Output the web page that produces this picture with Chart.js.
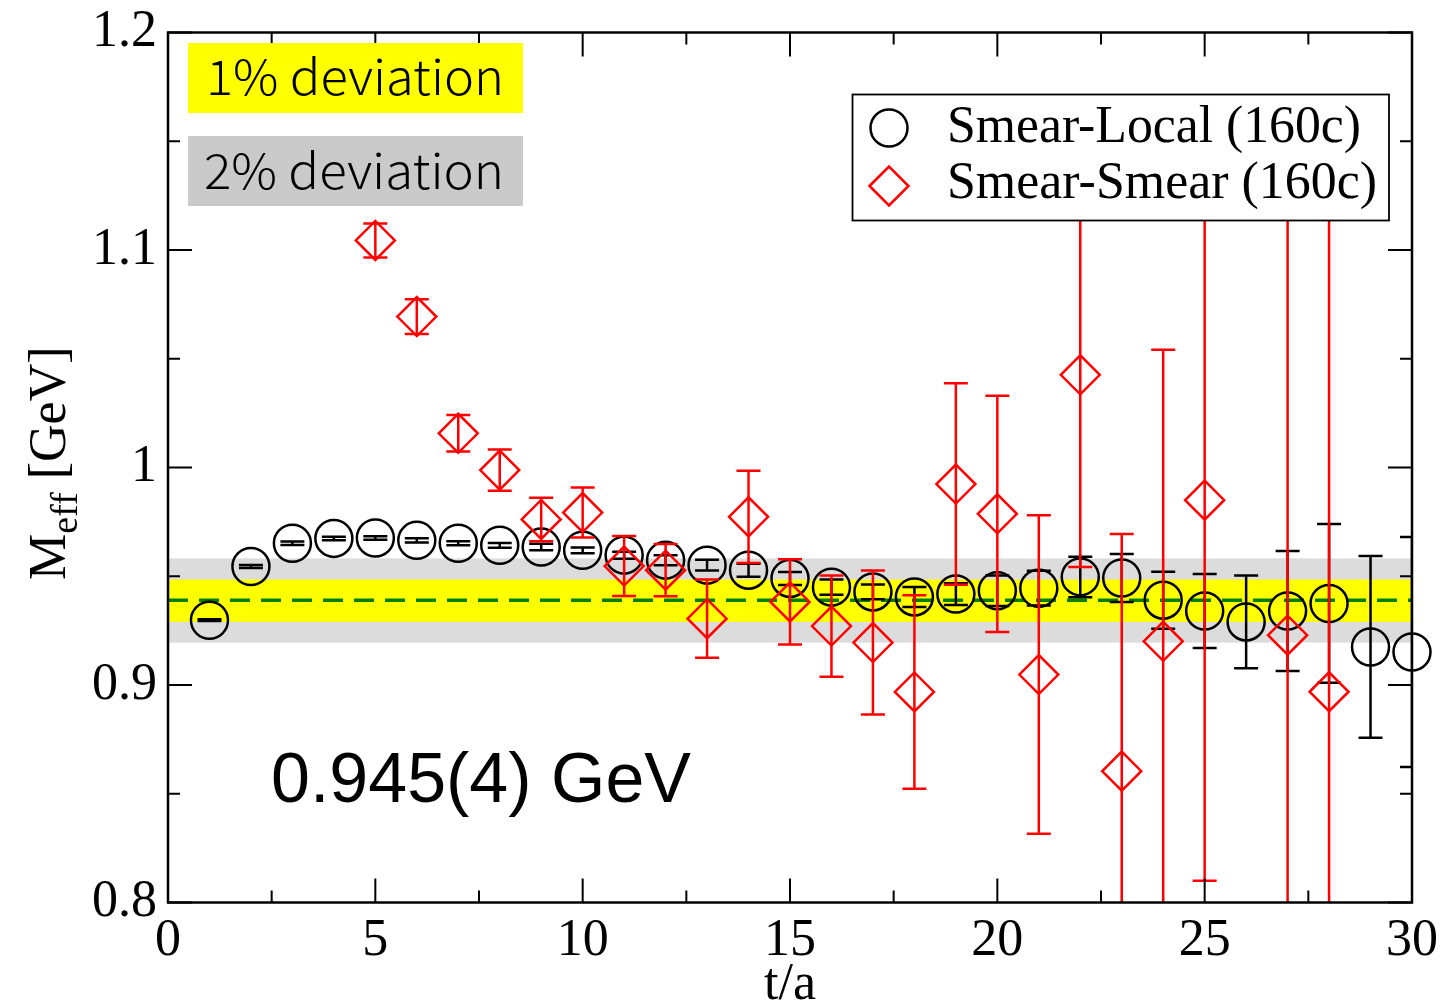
<!DOCTYPE html>
<html>
<head>
<meta charset="utf-8">
<script src="https://cdn.jsdelivr.net/npm/chart.js@4.4.1/dist/chart.umd.min.js"></script>
<style>
  html, body { margin: 0; padding: 0; background: #fff; }
  #wrap { width: 1440px; height: 1004px; }
</style>
</head>
<body>
<div id="wrap"><canvas id="myChart" width="1440" height="1004"></canvas></div>
<script>
// Smear-Local (160c) - black circles
const tLocal = [1, 2, 3, 4, 5, 6, 7, 8, 9, 10, 11, 12, 13, 14, 15, 16, 17, 18, 19, 20, 21, 22, 23, 24, 25, 26, 27, 28, 29, 30];
const mLocal = [0.9298, 0.9545, 0.9652, 0.9674, 0.9676, 0.9665, 0.9652, 0.9642, 0.9634, 0.9619,
  0.9597, 0.9574, 0.9551, 0.9528, 0.9490, 0.9450, 0.9428, 0.9405, 0.9418, 0.9433,
  0.9445, 0.9497, 0.9492, 0.9390, 0.9340, 0.9290, 0.9340, 0.9375, 0.9175, 0.9152];
const errLocal = [0.0004, 0.0007, 0.0008, 0.0008, 0.0008, 0.0010, 0.0009, 0.0011, 0.0015, 0.0013,
  0.0016, 0.0023, 0.0025, 0.0030, 0.0030, 0.0035, 0.0034, 0.0046, 0.0050, 0.0070,
  0.0080, 0.0093, 0.0110, 0.0131, 0.0170, 0.0213, 0.0276, 0.0365, 0.0418, 0.0529];

// Smear-Smear (160c) - red diamonds
const tSmear = [5, 6, 7, 8, 9, 10, 11, 12, 13, 14, 15, 16, 17, 18, 19, 20, 21, 22, 23, 24, 25, 27, 28];
const mSmear = [1.1044, 1.0694, 1.0157, 0.9988, 0.9761, 0.9793, 0.9547, 0.9528, 0.9305, 0.9773,
  0.9382, 0.9271, 0.9195, 0.8968, 0.9924, 0.9787, 0.9048, 1.0426, 0.8604, 0.9201,
  0.9850, 0.9229, 0.8969];
const errSmear = [0.0078, 0.0080, 0.0084, 0.0095, 0.0100, 0.0115, 0.0138, 0.0120, 0.0180, 0.0212,
  0.0196, 0.0233, 0.0331, 0.0445, 0.0463, 0.0543, 0.0732, 0.0884, 0.1090, 0.1340,
  0.1750, 0.2000, 0.2500];

// fit line and deviation bands
const fitT = [0, 30];
const fitM = [0.939, 0.939];
const band1 = [0.9290, 0.9485];
const band2 = [0.9195, 0.9582];

const xTicks = [0, 5, 10, 15, 20, 25, 30];
const xTickLabels = ["0", "5", "10", "15", "20", "25", "30"];
const yTicks = [0.8, 0.9, 1.0, 1.1, 1.2];
const yTickLabels = ["0.8", "0.9", "1", "1.1", "1.2"];

const serif = "'Liberation Serif', 'Times New Roman', serif";

function pts(xs, ys) {
  return xs.map((x, i) => ({ x: x, y: ys[i] }));
}

// fills a text so it spans a given width
function fitText(ctx, text, x, y, width) {
  const w = ctx.measureText(text).width;
  ctx.save();
  ctx.translate(x, y);
  ctx.scale(width / w, 1);
  ctx.fillText(text, 0, 0);
  ctx.restore();
}

function sinPadding(s) {
  s.paddingTop = 0; s.paddingBottom = 0; s.paddingLeft = 0; s.paddingRight = 0;
}

const bandas = {
  id: "bandas",
  beforeDatasetsDraw(chart) {
    const { ctx, chartArea: a, scales: { y } } = chart;
    ctx.save();
    ctx.fillStyle = "#dcdcdc";
    let t = y.getPixelForValue(band2[1]), b = y.getPixelForValue(band2[0]);
    ctx.fillRect(a.left, t, a.right - a.left, b - t);
    ctx.fillStyle = "#ffff00";
    t = y.getPixelForValue(band1[1]); b = y.getPixelForValue(band1[0]);
    ctx.fillRect(a.left, t, a.right - a.left, b - t);
    ctx.restore();
  }
};

const barrasError = {
  id: "barrasError",
  beforeDatasetDraw(chart, args) {
    const ds = chart.data.datasets[args.index];
    if (!ds.errors) return;
    const { ctx, chartArea: a, scales: { x, y } } = chart;
    ctx.save();
    ctx.beginPath();
    ctx.rect(a.left, a.top, a.right - a.left, a.bottom - a.top);
    ctx.clip();
    ctx.strokeStyle = ds.borderColor;
    ctx.lineWidth = 2.5;
    ds.data.forEach((p, i) => {
      const e = ds.errors[i];
      const px = x.getPixelForValue(p.x);
      const top = y.getPixelForValue(p.y + e);
      const bot = y.getPixelForValue(p.y - e);
      ctx.beginPath();
      ctx.moveTo(px, top); ctx.lineTo(px, bot);
      ctx.moveTo(px - 12, top); ctx.lineTo(px + 12, top);
      ctx.moveTo(px - 12, bot); ctx.lineTo(px + 12, bot);
      ctx.stroke();
    });
    ctx.restore();
  }
};

const marco = {
  id: "marco",
  afterDatasetsDraw(chart) {
    const { ctx, chartArea: a, scales: { x, y } } = chart;
    ctx.save();
    ctx.strokeStyle = "#000";
    ctx.lineWidth = 2;
    ctx.beginPath();
    // ticks hacia adentro, mayores y menores
    for (let i = 0; i < xTicks.length; i++) {
      const px = x.getPixelForValue(xTicks[i]);
      ctx.moveTo(px, a.bottom); ctx.lineTo(px, a.bottom - 24);
      ctx.moveTo(px, a.top); ctx.lineTo(px, a.top + 24);
      if (i < xTicks.length - 1) {
        const pm = x.getPixelForValue((xTicks[i] + xTicks[i + 1]) / 2);
        ctx.moveTo(pm, a.bottom); ctx.lineTo(pm, a.bottom - 12);
        ctx.moveTo(pm, a.top); ctx.lineTo(pm, a.top + 12);
      }
    }
    for (let i = 0; i < yTicks.length; i++) {
      const py = y.getPixelForValue(yTicks[i]);
      ctx.moveTo(a.left, py); ctx.lineTo(a.left + 24, py);
      ctx.moveTo(a.right, py); ctx.lineTo(a.right - 24, py);
      if (i < yTicks.length - 1) {
        const pm = y.getPixelForValue((yTicks[i] + yTicks[i + 1]) / 2);
        ctx.moveTo(a.left, pm); ctx.lineTo(a.left + 12, pm);
        ctx.moveTo(a.right, pm); ctx.lineTo(a.right - 12, pm);
      }
    }
    ctx.stroke();
    ctx.lineWidth = 2.5;
    ctx.strokeRect(a.left, a.top, a.right - a.left, a.bottom - a.top);
    ctx.restore();
  },
  afterDraw(chart) {
    const { ctx } = chart;
    ctx.save();
    // cajas de 1% y 2%
    ctx.fillStyle = "#ffff00";
    ctx.fillRect(188, 43, 335, 70);
    ctx.fillStyle = "#cacaca";
    ctx.fillRect(188, 136, 335, 70);
    ctx.fillStyle = "#000";
    ctx.font = "300 48px 'Noto Sans CJK JP', 'Noto Sans', sans-serif";
    ctx.textBaseline = "alphabetic";
    fitText(ctx, "1% deviation", 206, 95, 298);
    fitText(ctx, "2% deviation", 204, 189, 300);

    // resultado del ajuste
    ctx.font = "70px 'Liberation Sans', Arial, sans-serif";
    fitText(ctx, "0.945(4) GeV", 271, 802, 420);

    // leyenda
    const ds = chart.data.datasets;
    ctx.fillStyle = "#fff";
    ctx.fillRect(852.5, 94.5, 536.5, 126);
    ctx.strokeStyle = "#000";
    ctx.lineWidth = 1.8;
    ctx.strokeRect(852.5, 94.5, 536.5, 126);
    ctx.lineWidth = 2.5;
    ctx.beginPath();
    ctx.arc(889, 128, 18.5, 0, Math.PI * 2);
    ctx.stroke();
    ctx.strokeStyle = "#ff0000";
    ctx.beginPath();
    ctx.moveTo(889 - 19.5, 186); ctx.lineTo(889, 186 - 19.5);
    ctx.lineTo(889 + 19.5, 186); ctx.lineTo(889, 186 + 19.5);
    ctx.closePath();
    ctx.stroke();
    ctx.fillStyle = "#000";
    ctx.font = "52px " + serif;
    fitText(ctx, ds[1].label, 947, 142, 414);
    fitText(ctx, ds[0].label, 947, 198, 430);

    // titulo eje y con subindice
    ctx.translate(65, 580);
    ctx.rotate(-Math.PI / 2);
    ctx.font = "52px " + serif;
    ctx.fillText("M", 0, 0);
    let w = ctx.measureText("M").width;
    ctx.font = "38px " + serif;
    ctx.fillText("eff", w, 12);
    w += ctx.measureText("eff").width;
    ctx.font = "52px " + serif;
    ctx.fillText(" [GeV]", w, 0);
    ctx.restore();
  }
};

const canvas = document.getElementById("myChart");
const grafico = new Chart(canvas, {
  type: "scatter",
  data: {
    datasets: [
      {
        label: "Smear-Smear (160c)",
        data: pts(tSmear, mSmear),
        errors: errSmear,
        borderColor: "#ff0000",
        backgroundColor: "rgba(0,0,0,0)",
        pointStyle: "rectRot",
        pointRadius: 19.5,
        pointBorderWidth: 2.5,
        pointHoverRadius: 19.5,
        clip: false
      },
      {
        label: "Smear-Local (160c)",
        data: pts(tLocal, mLocal),
        errors: errLocal,
        borderColor: "#000000",
        backgroundColor: "rgba(0,0,0,0)",
        pointStyle: "circle",
        pointRadius: 18.5,
        pointBorderWidth: 2.5,
        pointHoverRadius: 18.5,
        clip: false
      },
      {
        type: "line",
        label: "fit",
        data: pts(fitT, fitM),
        borderColor: "#008000",
        borderWidth: 3.5,
        borderDash: [20, 11],
        pointRadius: 0,
        fill: false
      }
    ]
  },
  options: {
    responsive: false,
    animation: false,
    devicePixelRatio: 1,
    layout: { padding: { top: 32.5, right: 28, bottom: 0, left: 0 } },
    plugins: { legend: { display: false }, tooltip: { enabled: false } },
    scales: {
      x: {
        type: "linear",
        min: 0,
        max: 30,
        afterFit: (s) => { s.height = 101.5; sinPadding(s); },
        afterBuildTicks: (s) => { s.ticks = xTicks.map((v) => ({ value: v })); },
        grid: { display: false, drawTicks: false },
        border: { display: false },
        ticks: {
          padding: 8,
          maxRotation: 0,
          autoSkip: false,
          color: "#000",
          font: { family: serif, size: 52 },
          callback: (v) => xTickLabels[xTicks.indexOf(v)]
        },
        title: {
          display: true,
          text: "t/a",
          color: "#000",
          padding: 0,
          font: { family: serif, size: 52, lineHeight: 0.7 }
        }
      },
      y: {
        type: "linear",
        min: 0.8,
        max: 1.2,
        afterFit: (s) => { s.width = 168; sinPadding(s); },
        afterBuildTicks: (s) => { s.ticks = yTicks.map((v) => ({ value: v })); },
        grid: { display: false, drawTicks: false },
        border: { display: false },
        ticks: {
          padding: 11,
          autoSkip: false,
          color: "#000",
          font: { family: serif, size: 52 },
          callback: (v) => yTickLabels[yTicks.indexOf(v)]
        }
      }
    }
  },
  plugins: [bandas, barrasError, marco]
});
</script>
</body>
</html>
